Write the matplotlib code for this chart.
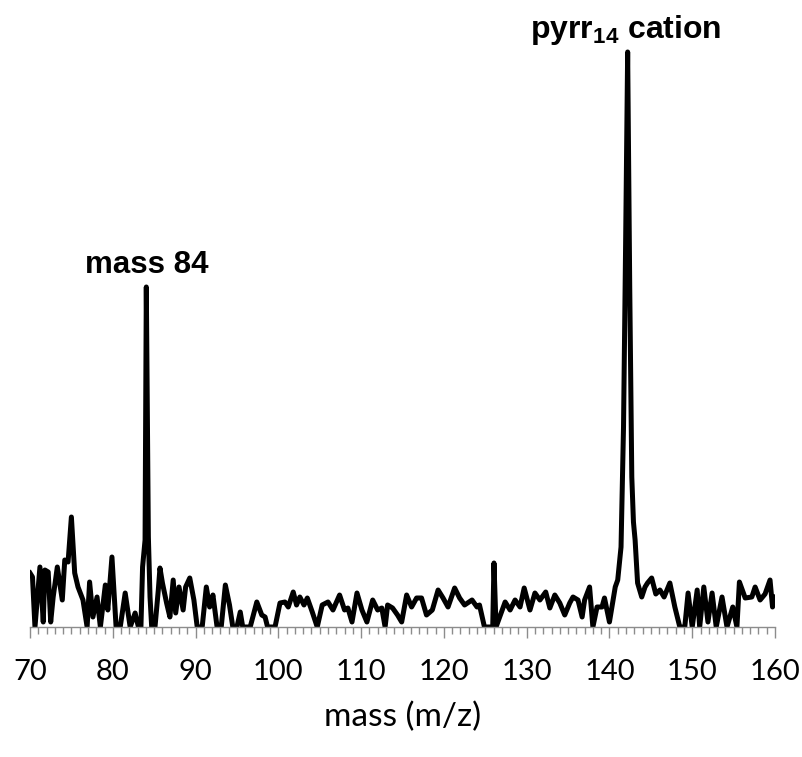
import numpy as np
import matplotlib
matplotlib.use('Agg')
import matplotlib.pyplot as plt
from matplotlib.ticker import MultipleLocator

plt.rcParams['mathtext.fontset'] = 'custom'
plt.rcParams['mathtext.rm'] = 'Liberation Sans'
plt.rcParams['mathtext.bf'] = 'Liberation Sans:bold'

# mass (m/z) and intensity (arbitrary units)
mass = [70.0, 70.3, 70.6, 71.2, 71.6, 71.8, 72.2, 72.5, 72.8, 73.3, 73.9, 74.2, 74.6,
        75.0, 75.4, 75.8, 76.4, 76.9, 77.2, 77.6, 78.1, 78.5, 79.1, 79.4, 79.9,
        80.4, 80.9, 81.5, 82.1, 82.7, 83.1, 83.4, 83.6, 83.9, 84.05, 84.3, 84.5,
        84.7, 85.1, 85.5, 85.7, 86.0, 86.5, 86.9, 87.3, 87.6, 88.0, 88.5, 88.8,
        89.3, 89.8, 90.2, 90.8, 91.3, 91.7, 92.1, 92.6, 93.1, 93.6, 94.1, 94.5,
        95.0, 95.4, 95.7, 96.6, 97.4, 98.0, 98.4, 98.7, 99.6, 100.2, 100.8, 101.2,
        101.8, 102.2, 102.6, 103.1, 103.5, 104.1, 104.7, 105.3, 106.0, 106.6,
        107.4, 108.0, 108.4, 108.9, 109.5, 110.1, 110.7, 111.4, 112.0, 112.5,
        112.9, 113.2, 113.8, 114.4, 114.9, 115.5, 116.1, 116.7, 117.3, 117.9,
        118.6, 119.3, 119.9, 120.5, 121.3, 121.9, 122.5, 123.4, 124.0, 124.3,
        124.9, 125.5, 125.9, 126.05, 126.3, 127.4, 128.0, 128.6, 129.2, 129.7,
        130.4, 131.0, 131.6, 132.3, 132.8, 133.4, 134.0, 134.6, 135.2, 135.6,
        136.2, 136.7, 137.0, 137.6, 138.0, 138.5, 139.1, 139.4, 140.0, 140.7,
        141.0, 141.4, 141.7, 141.95, 142.2, 142.45, 142.7, 142.9, 143.1, 143.4,
        143.9, 144.3, 144.6, 145.1, 145.6, 146.1, 146.6, 147.1, 147.3, 147.9,
        148.5, 149.1, 149.5, 150.0, 150.6, 150.9, 151.4, 151.9, 152.4, 152.9,
        153.6, 154.2, 154.9, 155.4, 155.7, 156.4, 157.2, 157.6, 158.2, 158.8,
        159.4, 159.7, 160.0]
intensity = [54, 50, 0, 60, 5, 57, 55, 5, 30, 60, 27, 67, 65,
             110, 54, 40, 27, 0, 45, 10, 30, 0, 42, 17, 70,
             0, 0, 34, 0, 14, 0, 0, 60, 87, 340, 90, 30,
             0, 0, 37, 59, 44, 24, 10, 47, 14, 40, 17, 40,
             49, 27, 0, 0, 40, 20, 32, 0, 0, 42, 22, 0,
             0, 15, 0, 0, 25, 12, 10, 0, 0, 24, 25, 20,
             35, 22, 30, 22, 29, 15, 0, 22, 25, 17,
             32, 17, 19, 5, 34, 17, 5, 27, 17, 19,
             0, 22, 19, 12, 5, 32, 20, 29, 29, 12,
             17, 37, 29, 20, 39, 29, 22, 27, 20, 22,
             0, 0, 0, 64, 0, 25, 17, 27, 20, 39,
             17, 34, 27, 35, 19, 32, 24, 12, 24, 30,
             27, 10, 27, 40, 0, 20, 20, 29, 5, 40,
             47, 80, 200, 380, 575, 340, 150, 105, 87, 44,
             30, 40, 44, 49, 33, 37, 30, 40, 44, 20,
             0, 0, 34, 0, 37, 0, 40, 5, 34, 0,
             30, 0, 20, 0, 45, 29, 30, 40, 27, 33,
             47, 20, 30]

label_font = ['Liberation Sans Narrow', 'Lato', 'DejaVu Sans']

fig = plt.figure(figsize=(8.03, 7.57), dpi=100)
ax = fig.add_axes([30 / 803, 1 - 627 / 757, 745 / 803, 587 / 757])

ax.plot(mass, intensity, color='black', lw=3.6, solid_joinstyle='round')

ax.set_xlim(70, 160)
ax.set_ylim(0, 587)

for s in ['left', 'right', 'top']:
    ax.spines[s].set_visible(False)
ax.spines['bottom'].set_color('#8c8c8c')
ax.spines['bottom'].set_linewidth(1.0)
ax.set_yticks([])

ax.xaxis.set_major_locator(MultipleLocator(10))
ax.xaxis.set_minor_locator(MultipleLocator(1))
ax.tick_params(axis='x', which='major', direction='out', length=8, width=1,
               color='#8c8c8c', pad=15, labelsize=21)
ax.tick_params(axis='x', which='minor', direction='out', length=5, width=1,
               color='#8c8c8c')
for lab in ax.get_xticklabels():
    lab.set_family(label_font)

ax.set_xlabel('mass (m/z)', fontsize=24, labelpad=12, family=label_font)

ax.text(84.1, 354, 'mass 84', ha='center', va='baseline', fontsize=22.5,
        fontweight='bold', family='Liberation Sans')
ax.text(142.0, 589, r'pyrr$_{\mathbf{14}}$ cation', ha='center', va='baseline',
        fontsize=23, fontweight='bold', family='Liberation Sans', clip_on=False)

fig.savefig('out.png', dpi=100)
